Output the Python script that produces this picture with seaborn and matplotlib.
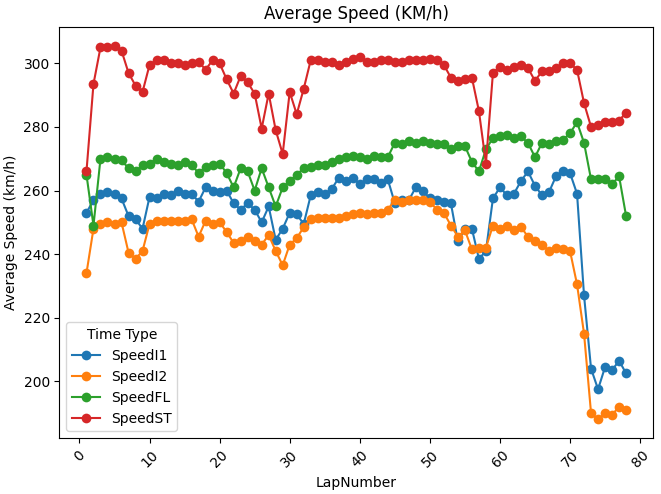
import pandas as pd
import matplotlib
matplotlib.use("Agg")
import matplotlib.pyplot as plt
import seaborn as sns

# Lap numbers and average speeds per time type
laps = list(range(1, 79))

speed_i1 = [253, 257, 259, 259.5, 259, 257.5, 252, 251, 248, 258,
            257.5, 259, 258.5, 260, 259, 259, 256.5, 261, 260, 259.5,
            260, 256, 254, 256, 254, 250, 255, 244.5, 248, 253,
            252.5, 249.5, 258.5, 259.5, 259, 260.5, 264, 263, 264, 262,
            263.5, 263.5, 262.5, 263.5, 256, 257, 257, 261, 260, 257.5,
            257, 256.5, 256, 244, 248, 248, 238.5, 241, 257.5, 261,
            258.5, 259, 263, 266, 261.5, 258.5, 259.5, 264.5, 266, 265.5,
            259, 227, 204, 197.5, 204.5, 203.5, 206.5, 202.5]

speed_i2 = [234, 248, 249.5, 250, 249.5, 250, 240.5, 238.5, 241, 249.5,
            250.5, 250.5, 250.5, 250.5, 250.5, 251, 245.5, 250.5, 249.5, 250,
            247, 243.5, 244, 245.5, 244, 243, 246, 241, 236.5, 243,
            245, 248.5, 251, 251.5, 251.5, 251.5, 251.5, 252, 252.5, 253,
            252.5, 253, 253, 254, 257, 256.5, 257, 257, 257, 256.5,
            254, 253, 249, 245.5, 247.5, 241.5, 242, 242, 249, 248,
            249, 247.5, 248.5, 245.5, 244, 243, 241, 242, 241.5, 241,
            230.5, 215, 190, 188, 190, 189.5, 192, 191]

speed_fl = [265, 249, 270, 270.5, 270, 269.5, 267, 266, 268, 268.5,
            270, 269, 268.5, 268, 269, 268, 265.5, 267.5, 268, 268.5,
            265.5, 261, 267, 266, 260, 267, 261, 255, 261, 263,
            265, 267, 267.5, 268, 268, 269, 270, 270.5, 271, 270.5,
            270, 271, 270.5, 270.5, 275, 274.5, 275.5, 275, 275.5, 275,
            274.5, 274.5, 273, 274, 274, 269, 266, 273, 276.5, 277,
            277.5, 276.5, 277, 275, 270.5, 275, 274.5, 275.5, 276, 278,
            281.5, 275, 263.5, 263.5, 263.5, 262, 264.5, 252]

speed_st = [266, 293.5, 305, 305, 305.5, 304, 297, 293, 291, 299.5,
            301, 301, 300, 300, 299.5, 300, 300.5, 298, 301, 300,
            295, 290.5, 296, 294, 290.5, 279.5, 290.5, 279, 271.5, 291,
            284, 292, 301, 301, 300.5, 300.5, 299.5, 300.5, 301.5, 302,
            300.5, 300.5, 301, 301, 300.5, 300.5, 301, 301, 301, 301.5,
            301, 299.5, 295.5, 294.5, 295, 295.5, 285, 268.5, 297, 299,
            298, 299, 299.5, 298.5, 294.5, 297.5, 297.5, 298.5, 300, 300,
            298, 287.5, 280, 280.5, 281.5, 281.5, 282, 284.5]

wide = pd.DataFrame({
    'LapNumber': laps,
    'SpeedI1': speed_i1,
    'SpeedI2': speed_i2,
    'SpeedFL': speed_fl,
    'SpeedST': speed_st,
})
df = wide.melt(id_vars='LapNumber', var_name='Time Type', value_name='Speed')

fig, ax = plt.subplots(figsize=(6.61, 4.94), dpi=100)
sns.lineplot(data=df, x='LapNumber', y='Speed', hue='Time Type', marker='o',
             markersize=7, markeredgecolor='none', ax=ax)
ax.set_title('Average Speed (KM/h)')
ax.set_xlabel('LapNumber')
ax.set_ylabel('Average Speed (km/h)')
plt.xticks(rotation=45)
ax.legend(title='Time Type', loc='lower left')
fig.subplots_adjust(left=0.09, right=0.988, top=0.945, bottom=0.113)
plt.savefig('out.png', dpi=100)
